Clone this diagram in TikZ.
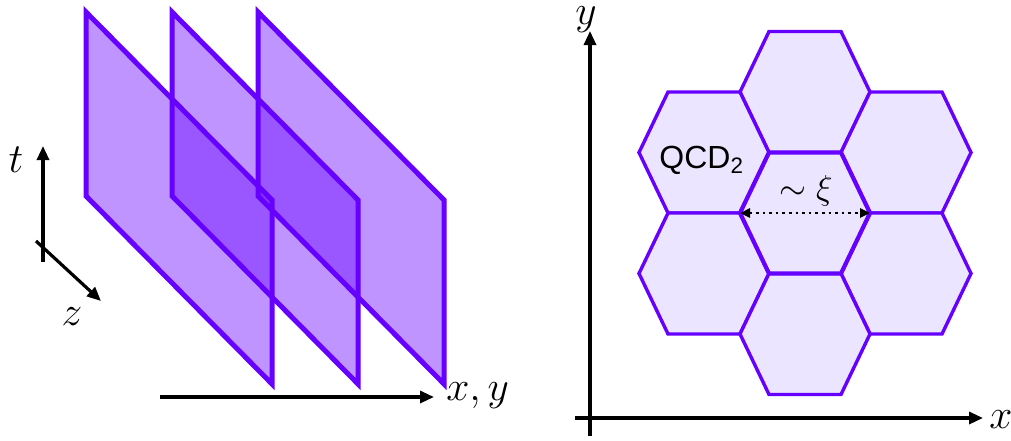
\documentclass[tikz,border=0pt]{standalone}
\usepackage{fontspec}
\setsansfont{Liberation Sans}
\usetikzlibrary{arrows.meta}
\definecolor{sheetedge}{RGB}{102,0,255}
\definecolor{cellfill}{RGB}{236,229,255}

\begin{document}
\begin{tikzpicture}[
    x=0.5pt, y=-0.5pt,
    sheet/.style={
        draw=sheetedge,
        fill=sheetedge,
        fill opacity=0.42,
        line width=2.5pt,
        line join=miter
    },
    hexcell/.style={
        draw=sheetedge,
        fill=cellfill,
        line width=1.7pt,
        line join=miter
    },
    axis/.style={
        draw=black,
        line width=1.6pt,
        -{Triangle[length=7pt,width=6pt]}
    },
    axislabel/.style={
        font=\fontsize{20}{24}\selectfont,
        inner sep=0pt
    }
]
    \useasboundingbox (0,0) rectangle (1011,440);

    % stacked sheets
    \foreach \dx in {0,86,172} {
        \draw[sheet] (86+\dx,12) -- (272+\dx,200) -- (272+\dx,384) -- (86+\dx,196) -- cycle;
    }

    % t, z and x,y axes
    \coordinate (tbase) at (43,262);
    \coordinate (ttip) at (43,146);
    \coordinate (zbase) at (36,241);
    \coordinate (ztip) at (101,301);
    \coordinate (xybase) at (160,397);
    \coordinate (xytip) at (434,397);
    \draw[axis] (tbase) -- (ttip);
    \draw[axis] (zbase) -- (ztip);
    \draw[axis] (xybase) -- (xytip);
    \node[axislabel] (tlabel) at (16,160) {$t$};
    \node[axislabel] (zlabel) at (72,317) {$z$};
    \node[axislabel, anchor=west] (xylabel) at (446,396) {$x, y$};

    % hexagonal domains
    \foreach \cx/\cy in {805/92, 704/152.5, 906/152.5, 704/273.5, 906/273.5, 805/334} {
        \draw[hexcell] (\cx-65,\cy) -- (\cx-36,\cy-60.5) -- (\cx+36,\cy-60.5)
            -- (\cx+65,\cy) -- (\cx+36,\cy+60.5) -- (\cx-36,\cy+60.5) -- cycle;
    }
    \draw[hexcell, line width=2.1pt] (740,213) -- (769,152.5) -- (841,152.5)
        -- (870,213) -- (841,273.5) -- (769,273.5) -- cycle;

    \node[font=\sffamily\fontsize{16}{19}\selectfont, anchor=base west, inner sep=0pt] (qcdlabel) at (659,168) {QCD\textsubscript{2}};
    \coordinate (xileft) at (740,213);
    \coordinate (xiright) at (870,213);
    \draw[dotted, line width=1.3pt, {Triangle[length=5pt,width=4.5pt]}-{Triangle[length=5pt,width=4.5pt]}] (xileft) -- (xiright);
    \node[font=\fontsize{16}{19}\selectfont, inner sep=0pt] (xilabel) at (806,191) {$\sim\xi$};

    % x and y axes
    \coordinate (ybase) at (590,436);
    \coordinate (ytip) at (590,31);
    \coordinate (xbase) at (575,418);
    \coordinate (xtip) at (983,418);
    \draw[axis] (ybase) -- (ytip);
    \draw[axis] (xbase) -- (xtip);
    \node[axislabel, anchor=north] (ylabel) at (586,6) {$y$};
    \node[axislabel] (xlabel) at (1001,420) {$x$};
\end{tikzpicture}
\end{document}
